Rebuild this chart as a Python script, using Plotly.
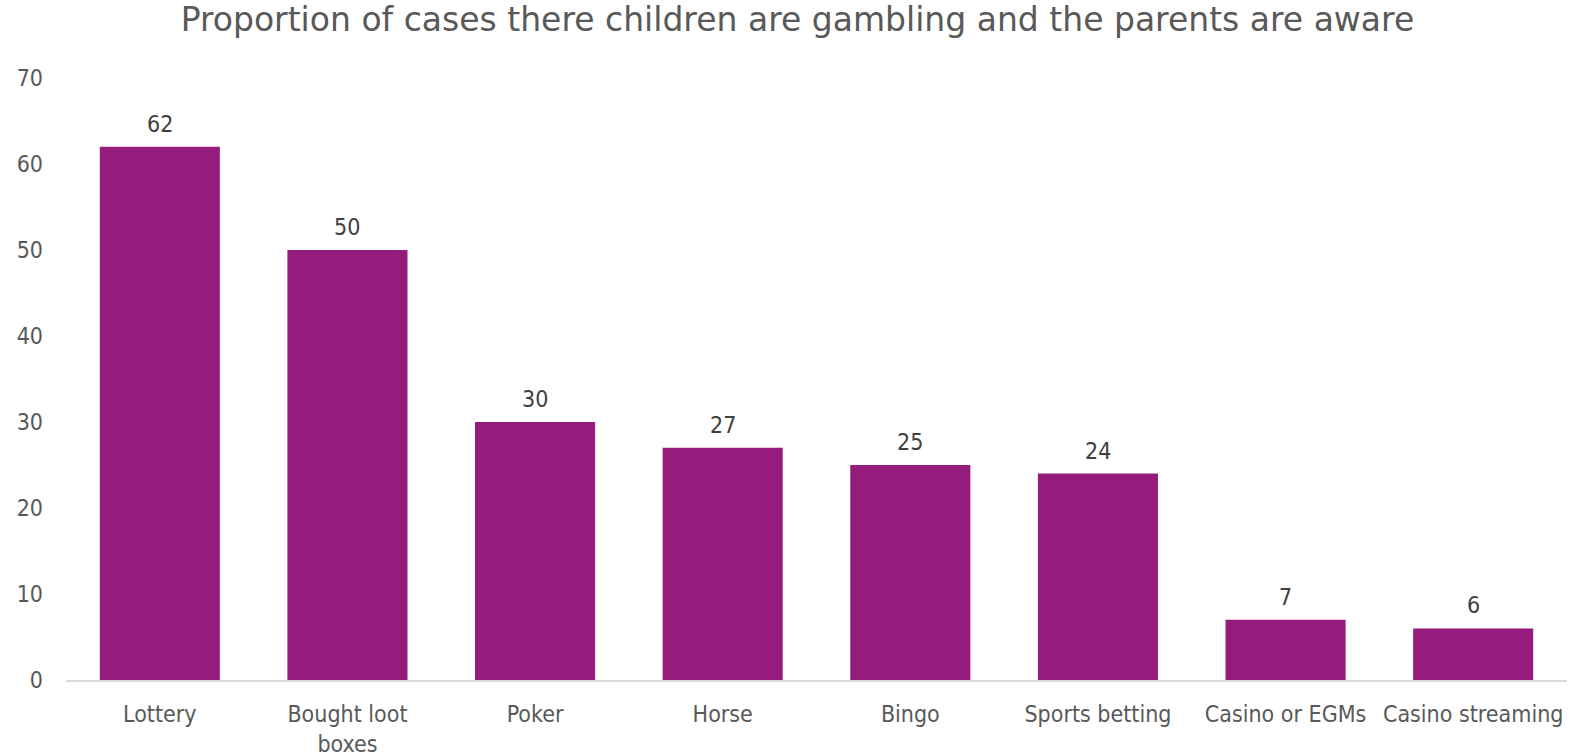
import plotly.graph_objects as go

# Share of cases where children gamble and parents know about it
categories = ["Lottery", "Bought loot<br>boxes", "Poker", "Horse", "Bingo",
              "Sports betting", "Casino or EGMs", "Casino streaming"]
values = [62, 50, 30, 27, 25, 24, 7, 6]
y_ticks = [0, 10, 20, 30, 40, 50, 60, 70]

BAR_COLOR = "#951B7D"
FONT = "DejaVu Sans Condensed, DejaVu Sans, sans-serif"
TITLE_FONT = "DejaVu Sans, sans-serif"
LABEL_SIZE = 23

fig = go.Figure(
    go.Bar(
        x=categories,
        y=values,
        marker=dict(color=BAR_COLOR, line=dict(width=0)),
        hoverinfo="x+y",
    )
)

# value labels sitting above each bar
for cat, val in zip(categories, values):
    fig.add_annotation(
        x=cat,
        y=val,
        text=str(val),
        showarrow=False,
        yanchor="bottom",
        yshift=8,
        font=dict(family=FONT, size=LABEL_SIZE, color="#404040"),
    )

fig.update_layout(
    width=1571,
    height=755,
    margin=dict(l=66, r=4, t=78, b=75),
    paper_bgcolor="white",
    plot_bgcolor="white",
    bargap=0.36,
    showlegend=False,
    title=dict(
        text="Proportion of cases there children are gambling and the parents are aware",
        x=0.5076,
        xanchor="center",
        y=0.974,
        yanchor="middle",
        font=dict(family=TITLE_FONT, size=33, color="#595959"),
    ),
    font=dict(family=FONT),
)

fig.update_xaxes(
    automargin=False,
    showgrid=False,
    showline=True,
    linecolor="#D9D9D9",
    linewidth=2,
    ticks="",
    ticklabelstandoff=12,
    tickfont=dict(family=FONT, size=LABEL_SIZE, color="#595959"),
)
fig.update_yaxes(
    automargin=False,
    range=[0, 70],
    tickvals=y_ticks,
    showgrid=False,
    zeroline=False,
    showline=False,
    ticks="",
    ticklabelstandoff=22,
    tickfont=dict(family=FONT, size=LABEL_SIZE, color="#595959"),
)

fig.write_html("out.html")
